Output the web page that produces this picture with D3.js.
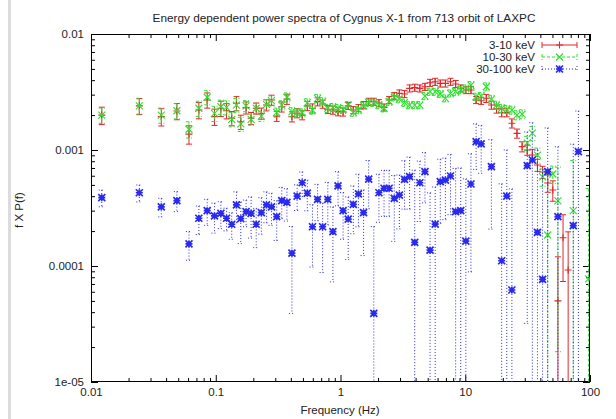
<!DOCTYPE html>
<html><head><meta charset="utf-8">
<script src="https://cdn.jsdelivr.net/npm/d3@7"></script>
<style>body{margin:0;background:#fff}svg{display:block}text{font-family:"Liberation Sans",Arial,sans-serif}</style>
</head><body><svg id="c" width="616" height="419"></svg>
<script>
// ---------- DATA ----------
const freqLinear = [0.0122,0.0244,0.0366,0.0488,0.0610,0.0732,0.0854,0.0977,0.1099,0.1221,0.1343,0.1465,0.1587];
const freqLog = [0.175,0.192,0.211,0.232,0.255,0.280,0.308,0.338,0.372,0.408,
 0.449,0.493,0.542,0.596,0.655,0.719,0.791,0.869,0.955,1.049,
 1.153,1.267,1.393,1.531,1.682,1.849,2.032,2.233,2.454,2.697,
 2.964,3.258,3.580,3.935,4.324,4.752,5.223,5.740,6.308,6.933,
 7.619,8.373,9.202,10.11,11.11,12.22,13.42,14.75,16.21,17.82,
 19.58,21.52,23.65,25.99,28.57,31.39,34.50,37.92,41.67,45.80,
 50.33,55.31,60.79,66.81,73.42,80.69,88.68,97.46];
const frequency = freqLinear.concat(freqLog);

const power3to10 = [0.00200,0.00240,0.00194,0.00217,0.00137,0.00221,0.00270,0.00194,0.00229,0.00218,0.00188,0.00253,0.00175,
 0.00232,0.00188,0.00229,0.00207,0.00244,0.00270,0.00196,0.00236,0.00275,0.00194,
 0.00208,0.00200,0.00240,0.00229,0.00261,0.00249,0.00224,0.00221,0.00214,0.00213,
 0.00240,0.00221,0.00230,0.00244,0.00261,0.00261,0.00254,0.00233,0.00270,0.00292,
 0.00308,0.00304,0.00340,0.00345,0.00340,0.00351,0.00380,0.00388,0.00375,0.00375,
 0.00388,0.00371,0.00340,0.00329,0.00329,0.00270,0.00266,0.00279,0.00244,0.00226,
 0.00210,0.00210,0.00170,0.00139,0.00107,0.00100,0.000905,0.000743,0.000646,0.000520,
 0.000452,0.00005,0.000175,0.0000925,null,null,null,null];
const errFrac3to10 = [0.17,0.16,0.17,0.16,0.18,0.16,0.15,0.16,0.15,0.15,0.14,0.14,0.14,
 0.12,0.12,0.11,0.11,0.11,0.10,0.10,0.10,0.10,0.10,
 0.09,0.09,0.09,0.09,0.08,0.08,0.08,0.08,0.08,0.08,
 0.07,0.07,0.07,0.07,0.07,0.07,0.07,0.07,0.07,0.07,
 0.07,0.07,0.07,0.07,0.07,0.07,0.07,0.07,0.07,0.07,
 0.07,0.07,0.07,0.07,0.07,0.07,0.07,0.08,0.08,0.08,
 0.08,0.08,0.09,0.09,0.10,0.10,0.12,0.12,0.12,0.17,
 0.20,1.40,0.58,1.13,null,null,null,null];

const power10to30 = [0.00200,0.00240,0.00200,0.00218,0.00151,0.00229,0.00285,0.00207,0.00236,0.00233,0.00184,0.00244,0.00168,
 0.00240,0.00184,0.00229,0.00196,0.00247,0.00266,0.00211,0.00244,0.00285,0.00214,
 0.00210,0.00210,0.00256,0.00221,0.00279,0.00261,0.00229,0.00233,0.00229,0.00224,
 0.00244,0.00210,0.00221,0.00240,0.00256,0.00256,0.00244,0.00229,0.00261,0.00285,
 0.00274,0.00256,0.00244,0.00244,0.00244,0.00292,0.00318,0.00318,0.00304,0.00279,
 0.00308,0.00318,0.00329,0.00340,0.00363,0.00288,0.00292,0.00351,0.00274,0.00244,
 0.00229,0.00224,0.00221,0.00200,0.00204,0.00115,0.00140,0.000905,0.000587,0.000185,
 0.000621,0.000365,null,null,0.0003,null,null,0.0000774];
const errFrac10to30 = [0.15,0.15,0.15,0.15,0.16,0.15,0.14,0.15,0.14,0.14,0.14,0.14,0.14,
 0.11,0.11,0.10,0.10,0.10,0.10,0.09,0.09,0.09,0.09,
 0.08,0.08,0.08,0.08,0.08,0.08,0.08,0.08,0.08,0.08,
 0.07,0.07,0.07,0.07,0.07,0.07,0.07,0.07,0.07,0.07,
 0.07,0.07,0.07,0.07,0.07,0.07,0.07,0.07,0.07,0.07,
 0.07,0.07,0.07,0.07,0.07,0.07,0.07,0.08,0.08,0.08,
 0.08,0.08,0.08,0.09,0.09,0.14,0.14,0.15,0.17,2.3,
 0.17,0.95,null,null,1.7,null,null,5.0];

const power30to100 = [0.000388,0.000428,0.000324,0.000366,0.000155,0.000258,0.000300,0.000270,0.000284,0.000258,0.000229,0.000336,0.000256,
 0.000294,0.000284,0.000229,0.000288,0.000336,0.000324,0.000266,0.000366,0.000354,0.000129,
 0.000401,0.000522,0.000424,0.000218,0.000376,0.000218,0.000376,0.000198,0.000490,0.000300,
 0.000254,0.000340,0.000418,0.000288,0.000562,0.0000391,0.000428,0.000468,0.000468,0.000383,
 0.000409,0.000559,0.000589,0.000160,0.000522,0.000650,0.000137,0.000230,0.000533,0.000551,
 0.000597,0.000294,0.000300,0.000164,0.000509,0.00118,0.00113,null,0.000718,null,
 0.000111,0.000401,0.0000621,null,null,0.000732,0.000820,0.000195,0.0000768,0.000650,
 null,0.000266,null,null,0.000223,0.000967,null,null];
const err30to100 = [0.000064,0.000071,0.000059,0.000072,0.000043,0.000071,0.000076,0.000078,0.000074,0.000057,0.000059,0.0001,0.0001,
 0.000076,0.00011,0.000085,0.0001,0.0001,0.0001,0.0001,0.00011,0.00011,0.00009,
 0.0001,0.000125,0.000125,0.00012,0.00013,0.00013,0.00015,0.000125,0.00016,0.00013,
 0.00014,0.00015,0.0002,0.000165,0.00025,0.00018,0.00019,0.0002,0.0002,0.00022,
 0.0002,0.00025,0.00028,0.00051,0.00028,0.0003,0.00029,0.00025,0.0003,0.0003,
 0.00032,0.0004,0.0004,0.0004,0.00042,0.0005,0.0005,null,0.00051,null,
 0.0004,0.0006,0.0004,null,null,0.0007,0.0009,0.0008,0.0006,0.0009,
 null,0.0008,null,null,0.0009,0.0012,null,null];

const seriesNames = ["3-10 keV","10-30 keV","30-100 keV"];
const xTickValues = [0.01,0.1,1,10,100];
const xTickLabels = ["0.01","0.1","1","10","100"];
const yTickValues = [1e-5,1e-4,1e-3,1e-2];
const yTickLabels = ["1e-05","0.0001","0.001","0.01"];
const titleText = "Energy dependent power spectra of Cygnus X-1 from 713 orbit of LAXPC";
const xLabel = "Frequency (Hz)";
const yLabel = "f X P(f)";

// ---------- DRAW ----------
const svg = d3.select("#c");
const M = {l:91, r:590, t:34, b:382};
const x = d3.scaleLog().domain([0.01,100]).range([M.l,M.r]);
const y = d3.scaleLog().domain([1e-5,0.01]).range([M.b,M.t]);

svg.append("rect").attr("x",0).attr("y",0).attr("width",616).attr("height",419).attr("fill","#fff");
svg.append("rect").attr("x",8).attr("y",0).attr("width",3).attr("height",419).attr("fill","#dcdcdc");

svg.append("defs").append("clipPath").attr("id","pc").append("rect")
  .attr("x",M.l).attr("y",M.t).attr("width",M.r-M.l).attr("height",M.b-M.t);

const minorX = [], minorY = [];
[0.01,0.1,1,10].forEach(d=>{for(let k=2;k<10;k++) minorX.push(d*k);});
[1e-5,1e-4,1e-3].forEach(d=>{for(let k=2;k<10;k++) minorY.push(d*k);});

function styleAxis(g){ g.select(".domain").remove(); g.selectAll("line").attr("stroke","#000"); g.selectAll("text").attr("font-size",11.5).attr("fill","#222").attr("font-family","Liberation Sans, Arial, sans-serif"); }

svg.append("g").attr("transform",`translate(0,${M.b})`)
  .call(d3.axisBottom(x).tickValues(xTickValues).tickSize(-7).tickPadding(6).tickFormat((d,i)=>xTickLabels[i])).call(styleAxis);
svg.append("g").attr("transform",`translate(0,${M.b})`)
  .call(d3.axisBottom(x).tickValues(minorX).tickSize(-4).tickFormat("")).call(styleAxis);
svg.append("g").attr("transform",`translate(0,${M.t})`)
  .call(d3.axisTop(x).tickValues(xTickValues).tickSize(-7).tickFormat("")).call(styleAxis);
svg.append("g").attr("transform",`translate(0,${M.t})`)
  .call(d3.axisTop(x).tickValues(minorX).tickSize(-4).tickFormat("")).call(styleAxis);
svg.append("g").attr("transform",`translate(${M.l},0)`)
  .call(d3.axisLeft(y).tickValues(yTickValues).tickSize(-7).tickPadding(7).tickFormat((d,i)=>yTickLabels[i])).call(styleAxis);
svg.append("g").attr("transform",`translate(${M.l},0)`)
  .call(d3.axisLeft(y).tickValues(minorY).tickSize(-4).tickFormat("")).call(styleAxis);
svg.append("g").attr("transform",`translate(${M.r},0)`)
  .call(d3.axisRight(y).tickValues(yTickValues).tickSize(-7).tickFormat("")).call(styleAxis);
svg.append("g").attr("transform",`translate(${M.r},0)`)
  .call(d3.axisRight(y).tickValues(minorY).tickSize(-4).tickFormat("")).call(styleAxis);

svg.append("rect").attr("x",M.l+0.5).attr("y",M.t+0.5).attr("width",M.r-M.l-1).attr("height",M.b-M.t-1)
  .attr("fill","none").attr("stroke","#000").attr("stroke-width",1);

const series = [
  {name:seriesNames[0], color:"#e3262a", dash:null, marker:"plus", vals:power3to10, err:power3to10.map((v,i)=>v==null?null:v*errFrac3to10[i])},
  {name:seriesNames[1], color:"#2ede2e", dash:"3,2", marker:"cross", vals:power10to30, err:power10to30.map((v,i)=>v==null?null:v*errFrac10to30[i])},
  {name:seriesNames[2], color:"#2a2aee", dash:"1,2", marker:"star", vals:power30to100, err:err30to100}
];

function drawMarker(g, type, cx, cy, color){
  const s = 3.5;
  const p = d3.path();
  if(type==="plus"||type==="star"){ p.moveTo(cx-s,cy); p.lineTo(cx+s,cy); p.moveTo(cx,cy-s); p.lineTo(cx,cy+s); }
  if(type==="cross"||type==="star"){ p.moveTo(cx-s,cy-s); p.lineTo(cx+s,cy+s); p.moveTo(cx-s,cy+s); p.lineTo(cx+s,cy-s); }
  g.append("path").attr("d",p.toString()).attr("stroke",color).attr("stroke-width",type==="star"?1.7:1.1).attr("fill","none");
}

const plot = svg.append("g").attr("clip-path","url(#pc)");
const cap = 3;
series.forEach(s=>{
  const g = plot.append("g");
  frequency.forEach((f,i)=>{
    const v = s.vals[i]; if(v==null) return;
    const e = s.err[i];
    const cx = x(f), cy = y(v);
    const hi = y(v+e);
    const loV = v-e;
    const lo = loV>0 ? y(loV) : M.b+20;
    const eb = g.append("g").attr("stroke",s.color).attr("stroke-width",1).attr("fill","none");
    const ln = eb.append("line").attr("x1",cx).attr("x2",cx).attr("y1",hi).attr("y2",lo);
    if(s.dash) ln.attr("stroke-dasharray",s.dash);
    const c1 = eb.append("line").attr("x1",cx-cap).attr("x2",cx+cap).attr("y1",hi).attr("y2",hi);
    if(s.dash) c1.attr("stroke-dasharray",s.dash);
    if(loV>0){ const c2 = eb.append("line").attr("x1",cx-cap).attr("x2",cx+cap).attr("y1",lo).attr("y2",lo); if(s.dash) c2.attr("stroke-dasharray",s.dash); }
    drawMarker(g, s.marker, cx, cy, s.color);
  });
});

// legend
const legY = [45,57,69];
series.forEach((s,i)=>{
  const ly = legY[i];
  svg.append("text").attr("x",535).attr("y",ly).attr("dy","0.35em").attr("text-anchor","end")
    .attr("font-size",11.5).attr("fill","#222").text(s.name);
  const g = svg.append("g").attr("stroke",s.color).attr("stroke-width",1);
  const l = g.append("line").attr("x1",542).attr("x2",577).attr("y1",ly).attr("y2",ly);
  const a = g.append("line").attr("x1",542).attr("x2",542).attr("y1",ly-3).attr("y2",ly+3);
  const b = g.append("line").attr("x1",577).attr("x2",577).attr("y1",ly-3).attr("y2",ly+3);
  if(s.dash){ l.attr("stroke-dasharray",s.dash); a.attr("stroke-dasharray",s.dash); b.attr("stroke-dasharray",s.dash); }
  drawMarker(svg, s.marker, 559.5, ly, s.color);
});

svg.append("text").attr("x",344).attr("y",22).attr("text-anchor","middle").attr("font-size",11.8).attr("fill","#222").text(titleText);
svg.append("text").attr("x",340).attr("y",414).attr("text-anchor","middle").attr("font-size",11.5).attr("fill","#222").text(xLabel);
svg.append("text").attr("transform","translate(23,210) rotate(-90)").attr("text-anchor","middle").attr("font-size",11.5).attr("fill","#222").text(yLabel);
</script>
</body></html>
